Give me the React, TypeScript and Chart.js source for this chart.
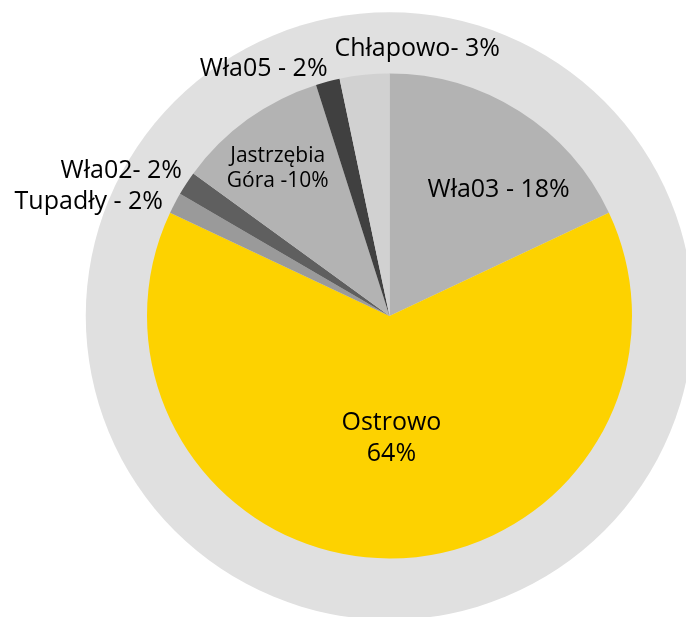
import React, { useEffect, useRef } from "react";
import { Chart, registerables } from "chart.js";

Chart.register(...registerables);

// ---- data ----
const categories = ["Wła03", "Ostrowo", "Tupadły", "Wła02", "Jastrzębia Góra", "Wła05", "Chłapowo"];
const shares = [18, 64, 1.4, 1.6, 10.1, 1.6, 3.3];
const labelLines = [
  ["Wła03 - 18%"],
  ["Ostrowo", "64%"],
  ["Tupadły - 2%"],
  ["Wła02- 2%"],
  ["Jastrzębia", "Góra -10%"],
  ["Wła05 - 2%"],
  ["Chłapowo- 3%"],
];

// ---- styles ----
const sliceColors = ["#b3b3b3", "#fdd200", "#9a9a9a", "#5f5f5f", "#b3b3b3", "#404040", "#d1d1d1"];
const ringColor = "#e0e0e0";
const FONT = "'Open Sans', 'DejaVu Sans', sans-serif";
// label anchor offsets relative to pie centre, in units of the pie radius
const labelPlacement = [
  { dx: 0.45, dy: -0.529, size: 25, lh: 31 },
  { dx: 0.008, dy: 0.498, size: 25, lh: 31 },
  { dx: -1.24, dy: -0.478, size: 25, lh: 31 },
  { dx: -1.106, dy: -0.604, size: 25, lh: 31 },
  { dx: -0.461, dy: -0.615, size: 21, lh: 24.5 },
  { dx: -0.519, dy: -1.027, size: 25, lh: 31 },
  { dx: 0.114, dy: -1.108, size: 25, lh: 31 },
];

const ringPlugin = {
  id: "ring",
  beforeDatasetsDraw(chart: any) {
    const arc = chart.getDatasetMeta(0).data[0];
    if (!arc) return;
    const { x, y, outerRadius } = arc.getProps(["x", "y", "outerRadius"], true);
    const ctx = chart.ctx;
    ctx.save();
    ctx.beginPath();
    ctx.arc(x, y, outerRadius * 1.2525, 0, Math.PI * 2);
    ctx.fillStyle = ringColor;
    ctx.fill();
    ctx.restore();
  },
};

const labelPlugin = {
  id: "sliceLabels",
  afterDatasetsDraw(chart: any) {
    const meta = chart.getDatasetMeta(0);
    const ctx = chart.ctx;
    ctx.save();
    ctx.fillStyle = "#000";
    ctx.textAlign = "center";
    ctx.textBaseline = "alphabetic";
    meta.data.forEach((arc: any, i: number) => {
      const { x, y, outerRadius } = arc.getProps(["x", "y", "outerRadius"], true);
      const p = labelPlacement[i];
      const lines = labelLines[i];
      ctx.font = `${p.size}px ${FONT}`;
      const cx = x + p.dx * outerRadius;
      const cy = y + p.dy * outerRadius;
      const n = lines.length;
      lines.forEach((t, k) => {
        const ly = cy + (k - (n - 1) / 2) * p.lh;
        ctx.fillText(t, cx, ly + 0.357 * p.size);
      });
    });
    ctx.restore();
  },
};

export default function App() {
  const ref = useRef<HTMLCanvasElement | null>(null);
  useEffect(() => {
    if (!ref.current) return;
    const chart = new Chart(ref.current, {
      type: "pie",
      data: {
        labels: categories,
        datasets: [
          {
            data: shares,
            backgroundColor: sliceColors,
            borderWidth: 0,
          },
        ],
      },
      options: {
        responsive: false,
        animation: false,
        layout: { padding: { left: 147, right: 54, top: 73.5, bottom: 58.5 } },
        plugins: {
          legend: { display: false },
          tooltip: { enabled: false },
        },
      },
      plugins: [ringPlugin, labelPlugin],
    });
    return () => chart.destroy();
  }, []);
  return (
    <div style={{ position: "absolute", left: 0, top: 0, width: 686, height: 617, background: "#fff" }}>
      <canvas ref={ref} width={686} height={617} style={{ display: "block" }} />
    </div>
  );
}
